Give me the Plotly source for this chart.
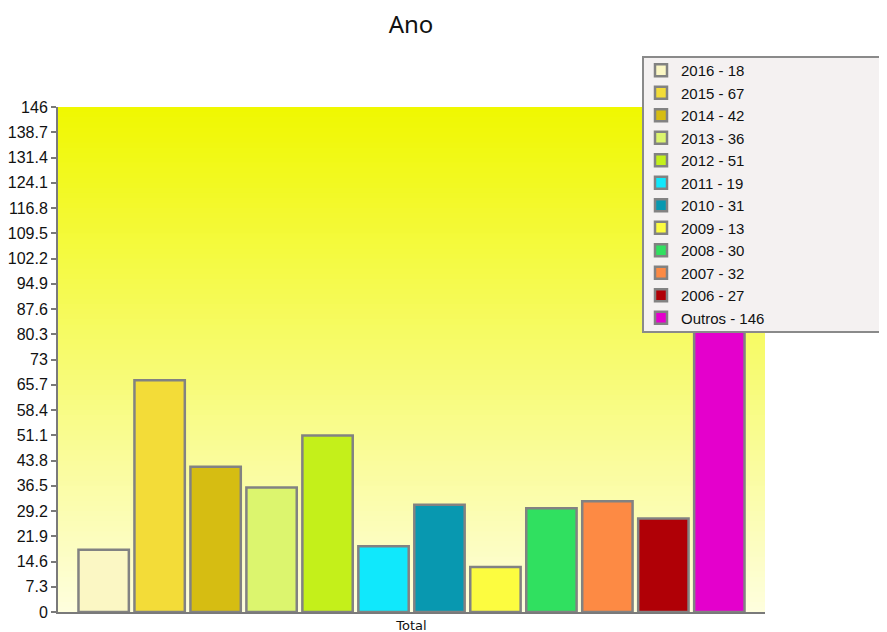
import plotly.graph_objects as go

# ---- data ----
title_text = "Ano"
x_category = "Total"
years = ["2016", "2015", "2014", "2013", "2012", "2011", "2010",
         "2009", "2008", "2007", "2006", "Outros"]
counts = [18, 67, 42, 36, 51, 19, 31, 13, 30, 32, 27, 146]
bar_colors = ["#fbf7c4", "#f3dc38", "#d6bd12", "#dcf56e", "#c4f01a", "#10e8fc",
              "#0898b0", "#fcfc40", "#30e060", "#fd8a44", "#b00006", "#e400cc"]
y_tick_vals = [0, 7.3, 14.6, 21.9, 29.2, 36.5, 43.8, 51.1, 58.4, 65.7, 73,
               80.3, 87.6, 94.9, 102.2, 109.5, 116.8, 124.1, 131.4, 138.7, 146]
y_tick_text = ["0", "7.3", "14.6", "21.9", "29.2", "36.5", "43.8", "51.1", "58.4",
               "65.7", "73", "80.3", "87.6", "94.9", "102.2", "109.5", "116.8",
               "124.1", "131.4", "138.7", "146"]
y_max = 146

# the page adds an 8px body margin; lay out in figure coords
OFF = 8
W, H = 887 - OFF, 632 - OFF
ML, MT = 58 - OFF, 107 - OFF
MR = W - (765 - OFF)
MB = H - (612 - OFF)
PW, PH = W - ML - MR, H - MT - MB

fig = go.Figure()
for name, val, col in zip(years, counts, bar_colors):
    fig.add_trace(go.Bar(
        x=[x_category], y=[val], name=f"{name} - {val}",
        marker=dict(color=col, line=dict(color="#828282", width=2.5)),
        legendgroup=name, hoverinfo="skip",
    ))

# background vertical gradient of the plotting area (decoration)
top = (240, 248, 0)
bot = (254, 254, 222)
N = 100
shapes = []
for i in range(N):
    t = (i + 0.5) / N
    c = tuple(int(round(bot[k] + (top[k] - bot[k]) * t)) for k in range(3))
    shapes.append(dict(type="rect", xref="x domain", yref="y domain",
                       x0=0, x1=1, y0=i / N, y1=1,
                       fillcolor="rgb(%d,%d,%d)" % c, line=dict(width=0),
                       layer="below"))
# legend box
lx0, lx1, ly0, ly1 = 643 - OFF, 886 - OFF, 57 - OFF, 332 - OFF
shapes.append(dict(type="rect", xref="paper", yref="paper",
                   x0=(lx0 - ML) / PW, x1=(lx1 - ML) / PW,
                   y0=(H - MB - ly1) / PH, y1=(H - MB - ly0) / PH,
                   fillcolor="#f4f1f1", line=dict(color="#8a8a8a", width=2),
                   layer="above"))

fig.update_layout(
    width=W, height=H,
    margin=dict(l=ML, r=MR, t=MT, b=MB, autoexpand=False),
    paper_bgcolor="white", plot_bgcolor="white",
    barmode="group", bargap=0.05, bargroupgap=0.1,
    title=dict(text=title_text, x=(411 - OFF) / W, xanchor="center",
               y=1 - (25 - OFF) / H, yanchor="middle", yref="container",
               font=dict(family="Noto Sans, Arial", size=24, color="#111111")),
    font=dict(family="Arial, Liberation Sans", color="#111111"),
    showlegend=True,
    legend=dict(x=(633 - ML) / PW, xanchor="left",
                y=(H - MB - 46) / PH, yanchor="top",
                bgcolor="rgba(0,0,0,0)", borderwidth=0,
                font=dict(family="Arial, Liberation Sans", size=15, color="#111111"),
                traceorder="normal", tracegroupgap=3.8, itemclick=False),
    shapes=shapes,
    xaxis=dict(range=[-0.5, 0.5], showgrid=False, zeroline=False,
               showline=True, linecolor="#7a7a7a", linewidth=2,
               ticks="", automargin=False,
               tickfont=dict(family="DejaVu Sans", size=13, color="#111111")),
    yaxis=dict(range=[0, y_max], tickvals=y_tick_vals, ticktext=y_tick_text,
               showgrid=False, zeroline=False, showline=True,
               linecolor="#7a7a7a", linewidth=2, ticks="outside", ticklen=5,
               tickcolor="#7a7a7a", tickwidth=2, automargin=False,
               tickfont=dict(family="Arial, Liberation Sans", size=16, color="#111111")),
)

fig.write_html("out.html")
